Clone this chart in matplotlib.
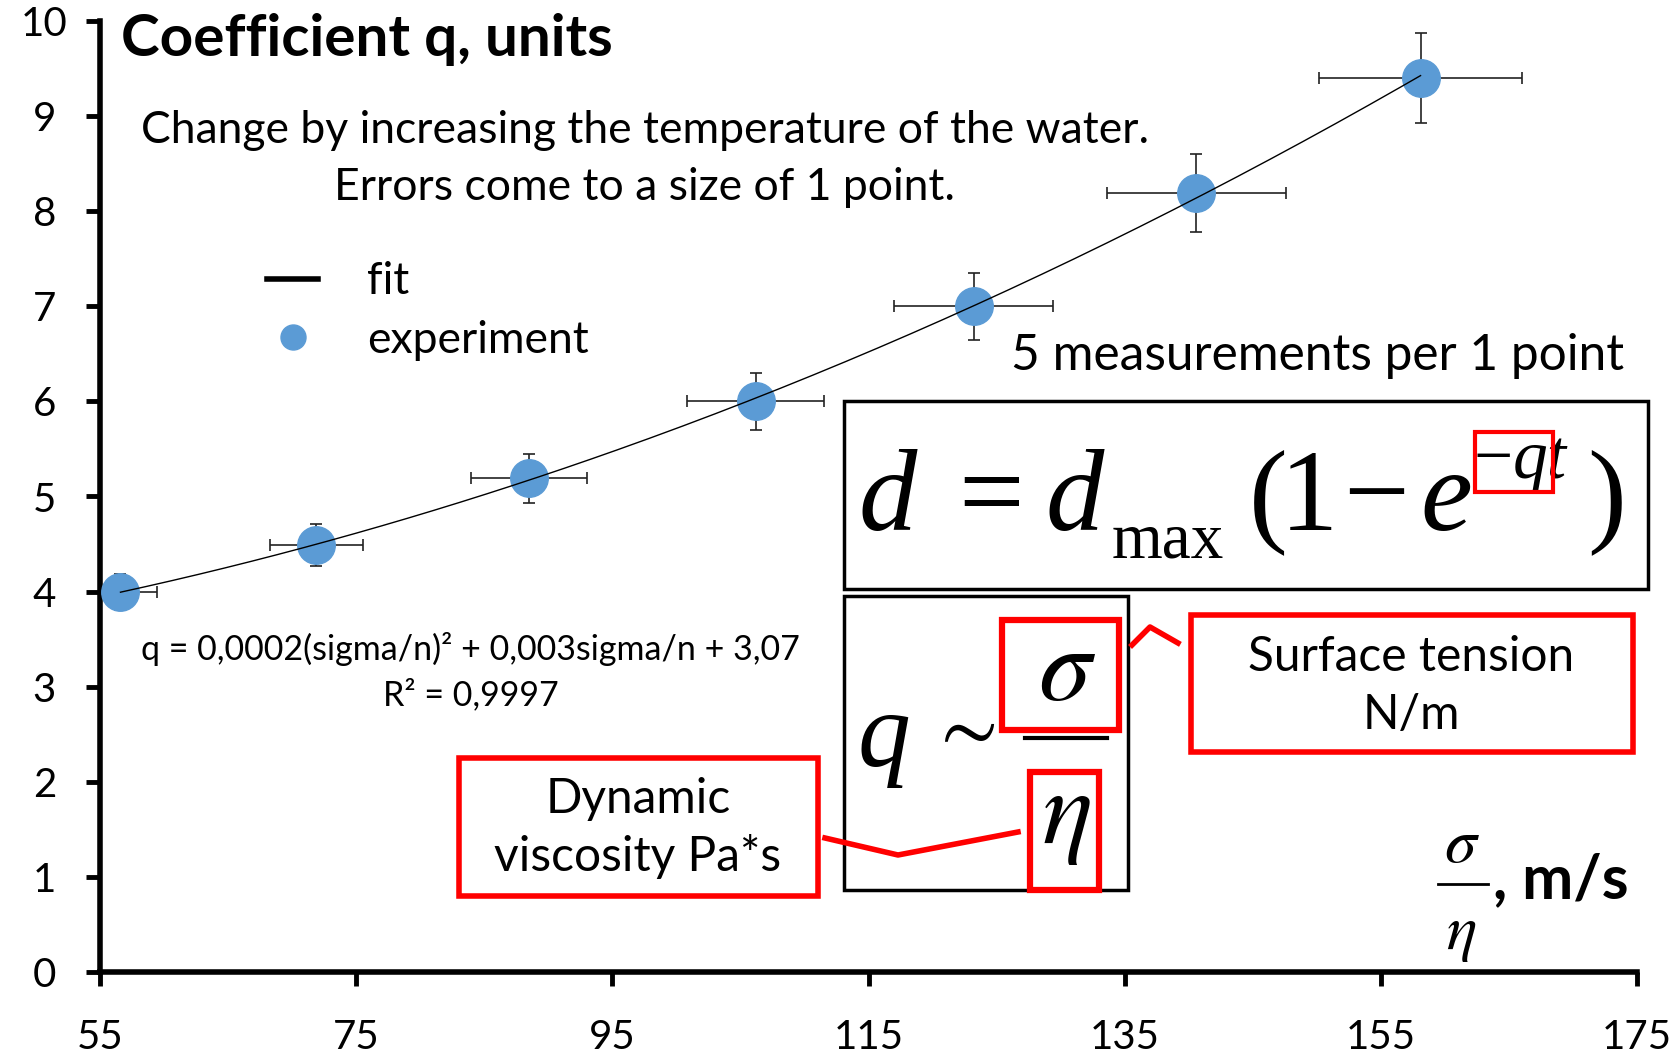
import numpy as np
import matplotlib
matplotlib.use("Agg")
import matplotlib.pyplot as plt
from matplotlib.patches import Rectangle
from matplotlib.lines import Line2D

plt.rcParams['font.family'] = ['Lato', 'DejaVu Sans']
plt.rcParams['mathtext.fontset'] = 'stix'

# data
ratio = [56.6, 71.9, 88.5, 106.2, 123.2, 140.6, 158.1]      # sigma/eta, m/s
q_coef = [4.0, 4.49, 5.19, 6.0, 7.0, 8.19, 9.4]             # coefficient q
ratio_err = [2.85, 3.6, 4.5, 5.35, 6.2, 7.0, 7.9]
q_err = [0.19, 0.22, 0.26, 0.30, 0.355, 0.41, 0.47]
x_ticks = [55, 75, 95, 115, 135, 155, 175]
y_ticks = list(range(0, 11))

W, H = 1681, 1053
fig = plt.figure(figsize=(W / 100, H / 100), dpi=100)
SERIF = 'Liberation Serif'


def fx(px):
    return px / W


def fy(py):
    return 1 - py / H


def ftext(px, py, s, **kw):
    kw.setdefault('va', 'baseline')
    return fig.text(fx(px), fy(py), s, **kw)


def fbox(x0, y0, x1, y1, color='black', lw=2.5):
    fig.add_artist(Rectangle((fx(x0), fy(y1)), (x1 - x0) / W, (y1 - y0) / H,
                             transform=fig.transFigure, fill=False,
                             ec=color, lw=lw, zorder=5))


def fline(pts, color='red', lw=4):
    xs = [fx(p[0]) for p in pts]
    ys = [fy(p[1]) for p in pts]
    fig.add_artist(Line2D(xs, ys, transform=fig.transFigure, color=color,
                          lw=lw, zorder=5))


ax = fig.add_axes([fx(100), fy(972), (1637 - 100) / W, (972 - 21) / H])

# error bars, points and quadratic fit
ax.errorbar(ratio, q_coef, xerr=ratio_err, yerr=q_err, fmt='none',
            ecolor='#222222', elinewidth=1.2, capsize=4, capthick=1.2, zorder=2)
ax.plot(ratio, q_coef, 'o', ms=27, color='#5B9BD5', zorder=3)
coef = np.polyfit(ratio, q_coef, 2)
xs = np.linspace(ratio[0], ratio[-1], 200)
ax.plot(xs, np.polyval(coef, xs), color='black', lw=1, zorder=4)

ax.set_xlim(55, 175)
ax.set_ylim(0, 10)
ax.set_xticks(x_ticks)
ax.set_yticks(y_ticks)
for s in ['top', 'right']:
    ax.spines[s].set_visible(False)
for s in ['left', 'bottom']:
    ax.spines[s].set_linewidth(4)
ax.tick_params(direction='out', length=10, width=3.5, labelsize=29)
ax.tick_params(axis='x', pad=24)
ax.tick_params(axis='y', pad=30)
for lab in ax.get_yticklabels():
    lab.set_ha('center')

# legend
handles = [Line2D([], [], color='black', lw=4),
           Line2D([], [], marker='o', ls='none', ms=18, color='#5B9BD5')]
fig.legend(handles, ['fit', 'experiment'], loc='upper left',
           bbox_to_anchor=(fx(245), fy(239)), frameon=False, fontsize=32,
           handlelength=1.15, handletextpad=1.1, borderpad=0, labelspacing=0.4)

# texts
ftext(121, 56, 'Coefficient q, units', fontsize=42, fontweight='bold')
ftext(645, 143, 'Change by increasing the temperature of the water.',
      fontsize=32, ha='center')
ftext(645, 200, 'Errors come to a size of 1 point.', fontsize=32, ha='center')
ftext(1624, 370, '5 measurements per 1 point', fontsize=35.7, ha='right')
ftext(470, 660, 'q = 0,0002(sigma/n)\u00b2 + 0,003sigma/n + 3,07',
      fontsize=24.5, ha='center')
ftext(471, 705, 'R\u00b2 = 0,9997', fontsize=24.5, ha='center')

# big formula d = d_max(1 - e^{-qt})
fbox(844, 401, 1648, 589)
big = 84
it = dict(family=SERIF, style='italic', fontsize=big)
rm = dict(family=SERIF, fontsize=big)
ftext(858, 530, 'd', **it)
ftext(958, 530, '=', **rm)
ftext(1045, 530, 'd', **it)
ftext(1112, 558, 'max', family=SERIF, fontsize=47)
ftext(1249, 530, '(', **rm)
ftext(1280, 530, '1', **rm)
ftext(1343, 530, '\u2212', **rm)
ftext(1420, 530, 'e', **it)
ftext(1474, 478, '\u2212', family=SERIF, fontsize=50)
ftext(1513, 478, 'qt', family=SERIF, style='italic', fontsize=50)
ftext(1587, 530, ')', **rm)
fbox(1475, 432, 1553, 492, color='red', lw=3)

# q ~ sigma / eta
fbox(844, 596, 1128, 890)
ftext(858, 765, 'q', family=SERIF, style='italic', fontsize=76)
ftext(928, 752, r'$\sim$', fontsize=60)
ftext(1067, 700, r'$\sigma$', fontsize=76, ha='center')
fline([(1025, 738), (1107, 738)], color='black', lw=3)
ftext(1066, 843, r'$\eta$', fontsize=76, ha='center')
fbox(1002, 620, 1119, 730, color='red', lw=4.5)
fbox(1030, 772, 1099, 890, color='red', lw=4.5)

# annotation boxes
fbox(1191, 615, 1633, 752, color='red', lw=4)
ftext(1411, 671, 'Surface tension', fontsize=34.5, ha='center')
ftext(1411, 729, 'N/m', fontsize=34.5, ha='center')
fline([(1132, 645), (1150, 627), (1178, 643)])

fbox(459, 758, 818, 896, color='red', lw=4)
ftext(638, 813, 'Dynamic', fontsize=34.5, ha='center')
ftext(638, 871, 'viscosity Pa*s', fontsize=34.5, ha='center')
fline([(825, 838), (898, 855), (1018, 832)])

# x axis label sigma/eta, m/s
ftext(1462, 862, r'$\sigma$', fontsize=46, ha='center')
fline([(1438, 884), (1488, 884)], color='black', lw=2)
ftext(1461, 949, r'$\eta$', fontsize=46, ha='center')
ftext(1493, 898, ', m/s', fontsize=44, fontweight='bold')

fig.savefig('out.png', dpi=100)
